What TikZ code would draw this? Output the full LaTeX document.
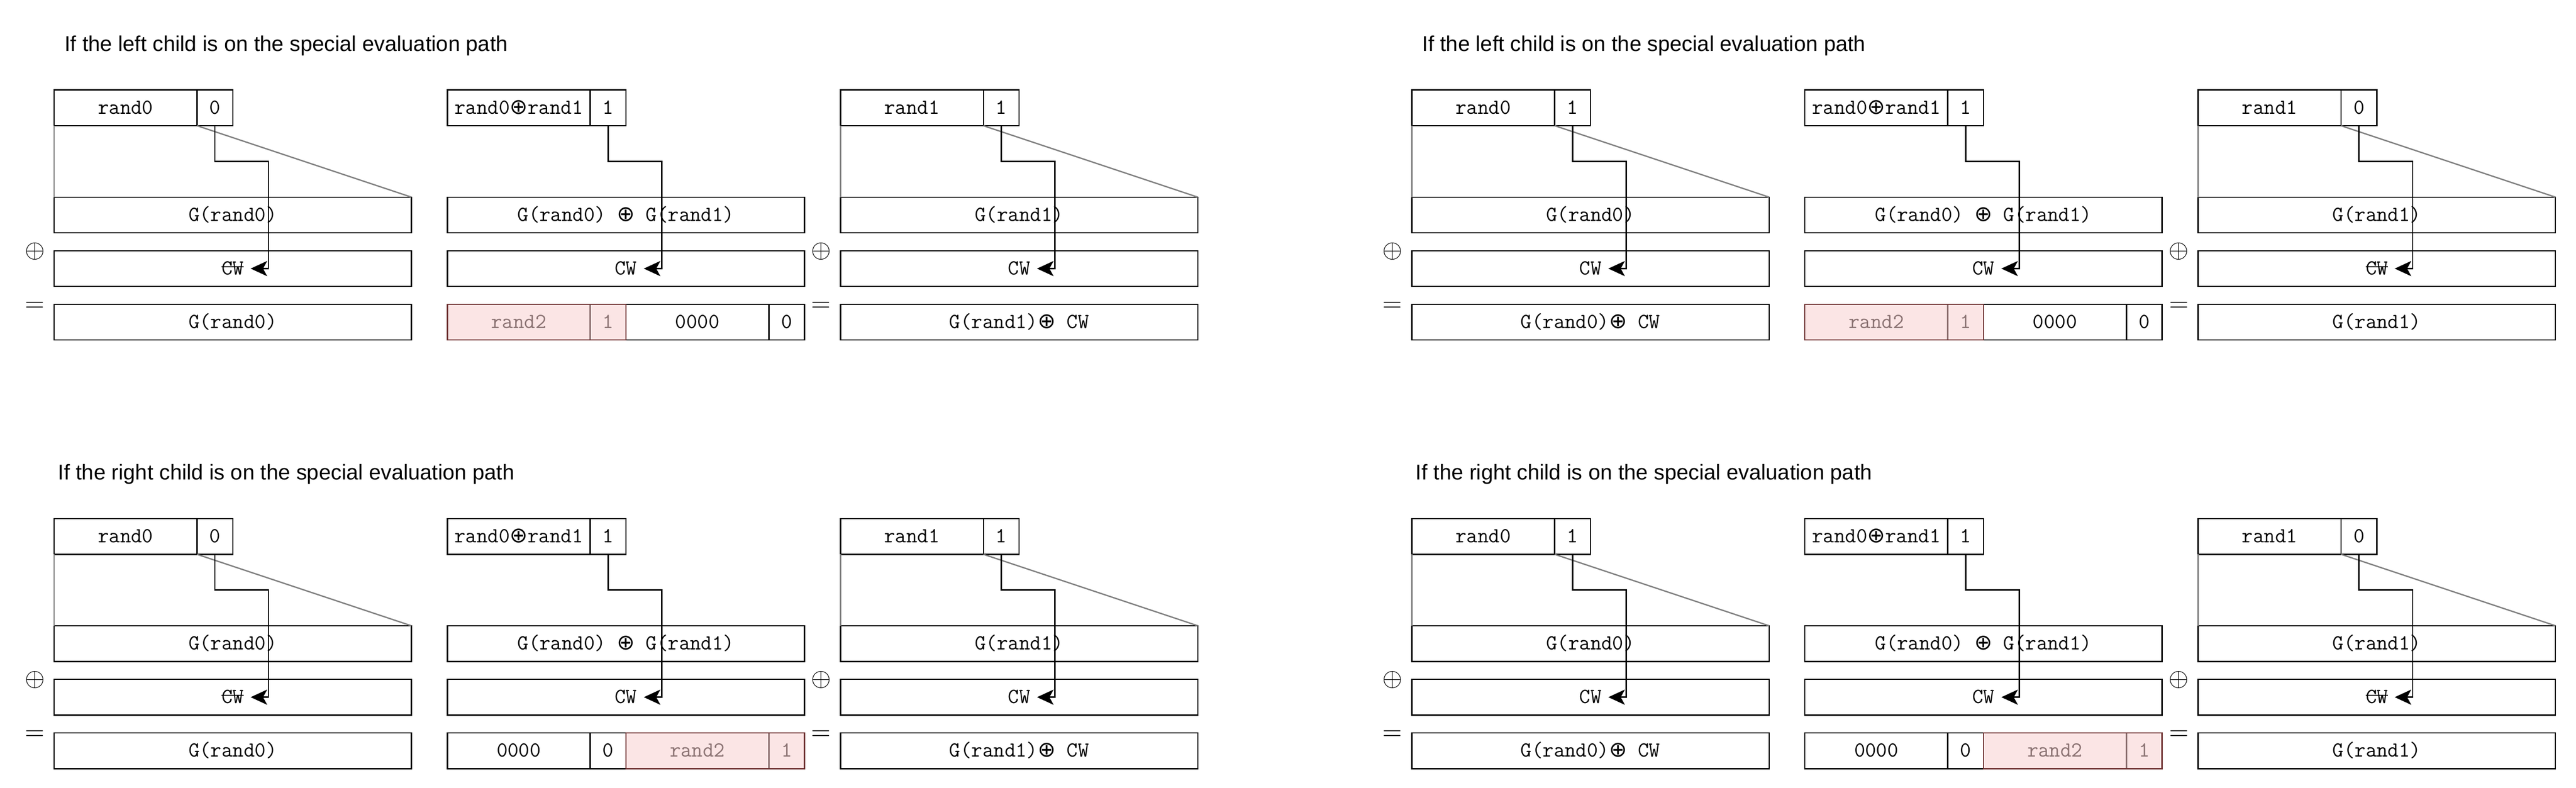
\documentclass[tikz,border=0pt]{standalone}
\usepackage{fontspec}
\setmainfont{Liberation Sans}
\newfontfamily\symf{DejaVu Sans}
\newcommand\monof{\fontsize{12}{14}\selectfont\ttfamily\addfontfeatures{FakeStretch=1.143}}
\usetikzlibrary{arrows.meta}
\definecolor{pinkfill}{HTML}{FBE5E5}
\definecolor{pinkdraw}{HTML}{703434}
\definecolor{pinkdiv}{HTML}{8A6E6E}
\definecolor{pinktext}{HTML}{8A7272}
\definecolor{lgray}{HTML}{808080}
\newcommand\xo{{\symf\fontsize{12}{14}\selectfont ⊕}}
\newsavebox\strkbox
\newcommand\strk[1]{\sbox\strkbox{#1}\rlap{\rule[4.1pt]{\wd\strkbox}{0.65pt}}\usebox\strkbox}
\tikzset{
  cell/.style={draw=black, line width=0.75pt, fill=white, anchor=north west,
    minimum height=20pt, inner sep=0pt, outer sep=0pt,
    font=\monof, text height=6.8pt, text depth=0pt},
  pinkcell/.style={cell, draw=pinkdiv, fill=pinkfill, text=pinktext},
  pinkframe/.style={draw=pinkdraw, line width=0.75pt},
  op/.style={inner sep=0pt, anchor=base, font=\fontsize{14.4}{16}\selectfont},
  titletext/.style={inner sep=0pt, anchor=base, font=\fontsize{12}{14}\selectfont},
  grayline/.style={draw=lgray, line width=0.75pt},
  arr/.style={draw=black, line width=0.75pt, -{Stealth[length=9.25pt, width=8.5pt, inset=2.3pt]}}
}
% side column: #1 name, #2 x, #3 y, #4 top label, #5 bit, #6 CW content, #7 result
\newcommand\sidecol[7]{%
  \begin{scope}[shift={(#2,#3)}]
    \node[cell, minimum width=80pt] (#1r) at (0,0) {#4};
    \node[cell, minimum width=20pt] (#1b) at (80,0) {#5};
    \node[cell, minimum width=200pt] (#1g) at (0,60) {G(#4)};
    \node[cell, minimum width=200pt] (#1c) at (0,90) {#6};
    \node[cell, minimum width=200pt] (#1s) at (0,120) {#7};
    \node[op] (#1p) at (-10.8,93.8) {$\oplus$};
    \node[op] (#1e) at (-10.8,123.8) {$=$};
    \draw[grayline] (#1r.south west) -- (#1g.north west);
    \draw[grayline] (#1b.south west) -- (#1g.north east);
    \draw[arr] (#1b.south) -- ++(0,20) -| ([xshift=20pt]#1c.center) -- ([xshift=10pt]#1c.center);
  \end{scope}}
% middle column: #1 name, #2 x, #3 y, #4 = 0 (pink left) or 1 (pink right)
\newcommand\midcol[4]{%
  \begin{scope}[shift={(#2,#3)}]
    \node[cell, minimum width=80pt] (#1r) at (0,0) {rand0\xo rand1};
    \node[cell, minimum width=20pt] (#1b) at (80,0) {1};
    \node[cell, minimum width=200pt] (#1g) at (0,60) {G(rand0) \xo{} G(rand1)};
    \node[cell, minimum width=200pt] (#1c) at (0,90) {CW};
    \ifnum#4=0
      \node[cell, minimum width=80pt] (#1w) at (100,120) {0000};
      \node[cell, minimum width=20pt] (#1z) at (180,120) {0};
      \node[pinkcell, minimum width=80pt] (#1q) at (0,120) {rand2};
      \node[pinkcell, minimum width=20pt] (#1o) at (80,120) {1};
    \else
      \node[cell, minimum width=80pt] (#1w) at (0,120) {0000};
      \node[cell, minimum width=20pt] (#1z) at (80,120) {0};
      \node[pinkcell, minimum width=80pt] (#1q) at (100,120) {rand2};
      \node[pinkcell, minimum width=20pt] (#1o) at (180,120) {1};
    \fi
    \draw[pinkframe] (#1q.north west) rectangle (#1o.south east);
    \draw[arr] (#1b.south) -- ++(0,20) -| ([xshift=20pt]#1c.center) -- ([xshift=10pt]#1c.center);
  \end{scope}}
\begin{document}
\begin{tikzpicture}[x=1pt, y=-1pt]
  \useasboundingbox (0,0) rectangle (1442,441);
  % titles
  \node[titletext] (t1) at (160.25,28.75) {If the left child is on the special evaluation path};
  \node[titletext] (t2) at (920.25,28.75) {If the left child is on the special evaluation path};
  \node[titletext] (t3) at (160.25,268.75) {If the right child is on the special evaluation path};
  \node[titletext] (t4) at (920.25,268.75) {If the right child is on the special evaluation path};
  % top-left panel
  \sidecol{aa}{30.3}{50.4}{rand0}{0}{\strk{CW}}{G(rand0)}
  \midcol{ab}{250.4}{50.4}{0}
  \sidecol{ac}{470.5}{50.4}{rand1}{1}{CW}{G(rand1)\xo{} CW}
  % top-right panel
  \sidecol{ba}{790.3}{50.4}{rand0}{1}{CW}{G(rand0)\xo{} CW}
  \midcol{bb}{1010.3}{50.4}{0}
  \sidecol{bc}{1230.5}{50.4}{rand1}{0}{\strk{CW}}{G(rand1)}
  % bottom-left panel
  \sidecol{ca}{30.3}{290.4}{rand0}{0}{\strk{CW}}{G(rand0)}
  \midcol{cb}{250.4}{290.4}{1}
  \sidecol{cc}{470.5}{290.4}{rand1}{1}{CW}{G(rand1)\xo{} CW}
  % bottom-right panel
  \sidecol{da}{790.3}{290.4}{rand0}{1}{CW}{G(rand0)\xo{} CW}
  \midcol{db}{1010.3}{290.4}{1}
  \sidecol{dc}{1230.5}{290.4}{rand1}{0}{\strk{CW}}{G(rand1)}
\end{tikzpicture}
\end{document}
